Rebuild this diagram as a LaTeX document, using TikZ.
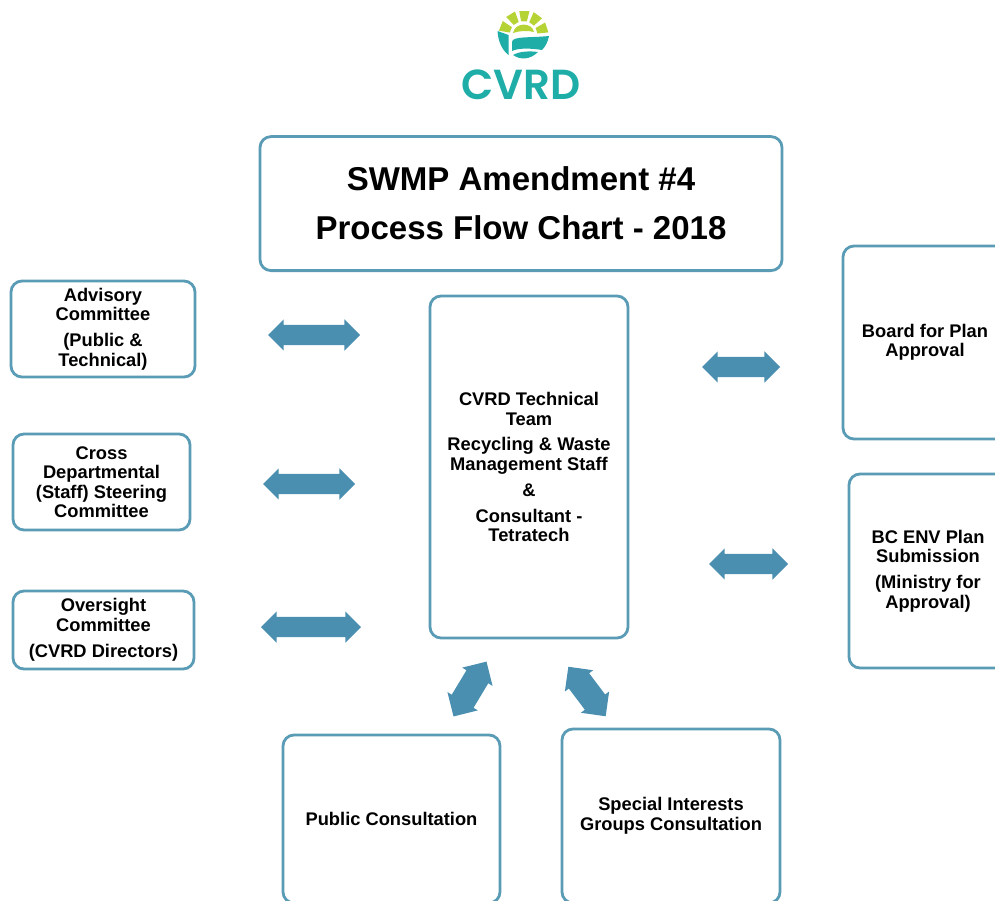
\documentclass[tikz,border=0pt]{standalone}
\usepackage{fontspec}
\setmainfont{Liberation Sans}
\newfontfamily\logofont{Poppins SemiBold}
\usetikzlibrary{shapes.arrows}
\definecolor{edgeblue}{HTML}{5A9BB5}
\definecolor{arrowblue}{HTML}{4A8FB0}
\definecolor{logoteal}{HTML}{1FADA8}
\definecolor{logolime}{HTML}{B5D334}
\tikzset{
  x=1pt,y=-1pt,
  box/.style={draw=edgeblue,line width=2.8pt,rounded corners=11pt,fill=white,align=center,
    inner sep=0pt,font=\fontsize{18.3}{19.5}\selectfont\bfseries,text=black},
  titlebox/.style={box,font=\fontsize{33}{49}\selectfont\bfseries},
  blockarrow/.style={double arrow,fill=arrowblue,draw=none,inner xsep=0pt,inner ysep=10pt,
    double arrow head extend=5.5pt,double arrow tip angle=90,anchor=center},
  fatarrow/.style={blockarrow,inner ysep=12.5pt,double arrow head extend=5pt}
}
\newcommand{\boxat}[7][box]{\node[#1,minimum width=#5pt-#3pt,minimum height=#6pt-#4pt] (#2)
   at ({(#3+#5)/2},{(#4+#6)/2}) {#7};}
\begin{document}
\begin{tikzpicture}
\useasboundingbox (0,0) rectangle (995,901);
\clip (0,0) rectangle (995,901);
% logo
\begin{scope}
\clip (490,12) rectangle (560,62);
\foreach \a in {158,122,88,54,18}{
  \fill[logolime] ({523.5+14*cos(\a-12)},{35-14*sin(\a-12)}) -- ({523.5+25*cos(\a-12)},{35-25*sin(\a-12)})
    -- ({523.5+25*cos(\a+12)},{35-25*sin(\a+12)}) -- ({523.5+14*cos(\a+12)},{35-14*sin(\a+12)}) -- cycle;
}
\end{scope}
\fill[logolime] (513,33) .. controls (515,22) and (532,22) .. (534,32) .. controls (527,30) and (519,31) .. (513,33) -- cycle;
\fill[logoteal] (497.5,31) .. controls (503,33) and (506,34) .. (508.5,35) -- (508.5,55) .. controls (502,50) and (498,41) .. (497.5,31) -- cycle;
\fill[logoteal] (512,42) .. controls (512,36) and (530,38) .. (549,36) .. controls (548,41) and (546,46) .. (542,50)
  .. controls (530,48) and (518,48) .. (512,51) -- cycle;
\fill[logoteal] (513,55) .. controls (520,51) and (530,51) .. (538,52) .. controls (530,60) and (520,60) .. (513,55) -- cycle;
\node[font=\fontsize{42}{42}\logofont,text=logoteal,inner sep=0pt,anchor=center] (logo) at (521,85) {CVRD};
% boxes
\boxat[titlebox]{title}{260}{136.6}{782}{270.6}{SWMP Amendment \#4\\Process Flow Chart - 2018}
\boxat{advisory}{11}{281}{195}{377}{Advisory\\Committee\\[6.5pt](Public \&\\Technical)}
\boxat{cross}{13}{434}{190}{530}{Cross\\Departmental\\(Staff) Steering\\Committee}
\boxat{oversight}{13}{591}{194}{669}{Oversight\\Committee\\[6.5pt](CVRD Directors)}
\boxat{team}{430}{296}{628}{638}{CVRD Technical\\Team\\[6pt]Recycling \& Waste\\Management Staff\\[6.5pt]\&\\[6.5pt]Consultant -\\Tetratech}
\boxat{board}{843}{246}{1007}{439}{Board for Plan\\Approval}
\boxat{env}{849}{474}{1007}{668}{BC ENV Plan\\Submission\\[6.5pt](Ministry for\\Approval)}
\boxat{public}{283}{735}{500}{903}{Public Consultation}
\boxat{special}{562}{729}{780}{903}{Special Interests\\Groups Consultation}
% block arrows
\node[blockarrow,minimum height=92pt] (a1) at (314,335) {};
\node[blockarrow,minimum height=92pt] (a2) at (309,484) {};
\node[blockarrow,minimum height=100pt] (a3) at (311,627) {};
\node[blockarrow,minimum height=78pt] (a4) at (741,367) {};
\node[blockarrow,minimum height=79pt] (a5) at (748.5,564) {};
\node[fatarrow,minimum height=64pt,rotate=59] (a6) at (470,689) {};
\node[fatarrow,minimum height=62pt,rotate=-53] (a7) at (587,691.5) {};
\end{tikzpicture}
\end{document}
